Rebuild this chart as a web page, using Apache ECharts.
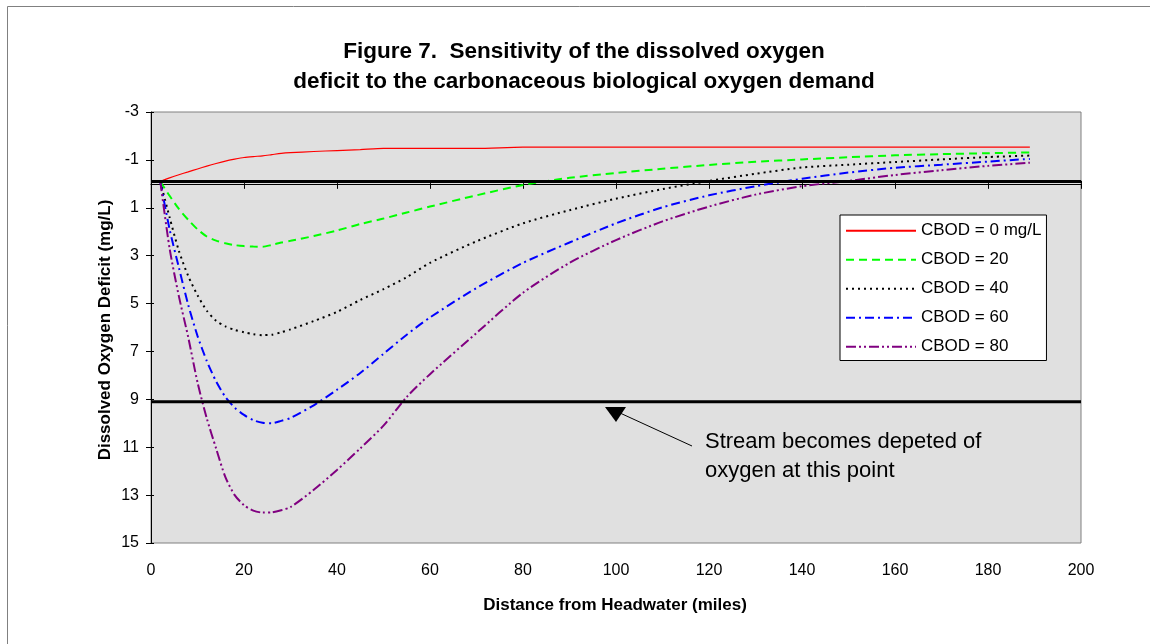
<!DOCTYPE html>
<html><head><meta charset="utf-8">
<script src="https://cdn.jsdelivr.net/npm/echarts@6/dist/echarts.min.js"></script>
<style>html,body{margin:0;padding:0;background:#fff}#c{width:1150px;height:644px}</style>
</head><body><div id="c"></div><script>
// distance from headwater (miles)
const distance = [2, 4, 6, 8, 10, 12, 14, 16, 18, 20, 22, 24, 26, 28, 30, 35, 40, 45, 50, 55, 60, 70, 80, 90, 100, 110, 120, 130, 140, 150, 160, 170, 180, 189];
// dissolved oxygen deficit (mg/L) for each CBOD level
const cbod0  = [-0.1, -0.25, -0.38, -0.5, -0.62, -0.74, -0.85, -0.95, -1.03, -1.1, -1.14, -1.17, -1.22, -1.27, -1.3, -1.35, -1.39, -1.43, -1.48, -1.48, -1.48, -1.48, -1.53, -1.53, -1.53, -1.53, -1.53, -1.53, -1.53, -1.53, -1.53, -1.53, -1.53, -1.53];
const cbod20 = [-0.1, 0.5, 1.05, 1.5, 1.9, 2.2, 2.37, 2.48, 2.56, 2.6, 2.62, 2.63, 2.55, 2.45, 2.38, 2.18, 1.95, 1.68, 1.45, 1.2, 0.95, 0.48, 0.05, -0.25, -0.45, -0.63, -0.79, -0.92, -1.02, -1.11, -1.19, -1.24, -1.28, -1.31];
const cbod40 = [-0.1, 1.4, 2.8, 3.85, 4.65, 5.3, 5.72, 5.95, 6.1, 6.2, 6.28, 6.32, 6.3, 6.2, 6.08, 5.73, 5.35, 4.85, 4.4, 3.9, 3.3, 2.4, 1.65, 1.1, 0.62, 0.22, -0.12, -0.42, -0.68, -0.8, -0.91, -1.02, -1.12, -1.18];
const cbod60 = [-0.1, 1.9, 3.5, 5.05, 6.35, 7.4, 8.25, 8.9, 9.35, 9.65, 9.87, 9.98, 10.0, 9.9, 9.78, 9.25, 8.6, 7.9, 7.1, 6.3, 5.58, 4.35, 3.3, 2.45, 1.65, 0.98, 0.48, 0.1, -0.21, -0.47, -0.67, -0.8, -0.93, -1.04];
const cbod80 = [-0.1, 2.7, 4.7, 6.4, 8.29, 9.8, 11.05, 12.25, 13.0, 13.42, 13.65, 13.73, 13.72, 13.63, 13.5, 12.78, 11.95, 11.05, 10.1, 8.9, 7.95, 6.23, 4.55, 3.3, 2.35, 1.57, 0.95, 0.45, 0.1, -0.12, -0.37, -0.57, -0.75, -0.88];
const seriesNames = ['CBOD = 0 mg/L', 'CBOD = 20', 'CBOD = 40', 'CBOD = 60', 'CBOD = 80'];
// reference levels (initial deficit, depletion level)
const refLevels = [-0.1, 9.1];
const refSpan = [0, 200];

const FONT = '"Liberation Sans", Arial, sans-serif';
const chart = echarts.init(document.getElementById('c'), null, {renderer: 'canvas'});

const pts = arr => distance.map((d, i) => [d, arr[i]]);
const styles = [
  {color: '#FF0000', width: 1.2, type: 'solid'},
  {color: '#00FF00', width: 2, type: [8, 5]},
  {color: '#000000', width: 2, type: [2, 4]},
  {color: '#0000FF', width: 2, type: [9, 4, 2, 4]},
  {color: '#800080', width: 2, type: [10, 3, 2, 3, 2, 3]}
];
const dataSets = [cbod0, cbod20, cbod40, cbod60, cbod80];

const series = dataSets.map((arr, i) => ({
  name: seriesNames[i], type: 'line', data: pts(arr), symbol: 'none', smooth: 0.25,
  lineStyle: styles[i], itemStyle: {color: styles[i].color}, z: 3, silent: true
}));
refLevels.forEach(v => series.push({
  type: 'line', data: refSpan.map(x => [x, v]), symbol: 'none',
  lineStyle: {color: '#000', width: 3}, z: 4, silent: true
}));

const yBase = {
  type: 'value', inverse: true, min: -3, max: 15, interval: 2, position: 'left',
  splitLine: {show: false}
};
const xBase = {type: 'value', min: 0, max: 200, interval: 20, position: 'bottom', splitLine: {show: false}};

chart.setOption({
  animation: false,
  backgroundColor: '#fff',
  grid: {left: 151, top: 112, width: 930, height: 431, show: true, backgroundColor: '#E0E0E0', borderColor: '#808080', borderWidth: 1},
  xAxis: [
    Object.assign({}, xBase, {
      axisLine: {lineStyle: {color: '#000', width: 1}},
      axisTick: {inside: false, length: 5, lineStyle: {color: '#000'}},
      axisLabel: {color: '#000', fontSize: 16, fontFamily: FONT, margin: 20}
    }),
    Object.assign({}, xBase, {
      axisLine: {show: false}, axisLabel: {show: false},
      axisTick: {inside: true, length: 3, lineStyle: {color: '#000'}}
    })
  ],
  yAxis: [
    Object.assign({}, yBase, {
      axisLine: {show: true, lineStyle: {color: '#000', width: 1}},
      axisTick: {show: true, inside: false, length: 5, lineStyle: {color: '#000'}},
      axisLabel: {color: '#000', fontSize: 16, fontFamily: FONT, margin: 12}
    }),
    Object.assign({}, yBase, {
      axisLine: {show: false}, axisLabel: {show: false},
      axisTick: {show: true, inside: true, length: 3, lineStyle: {color: '#000'}}
    })
  ],
  legend: {
    data: seriesNames, orient: 'vertical', left: 840, top: 215,
    padding: [7, 5, 5, 5], itemWidth: 70, itemHeight: 12, itemGap: 11.5,
    itemStyle: {opacity: 0},
    backgroundColor: '#fff', borderColor: '#000', borderWidth: 1, borderRadius: 0,
    textStyle: {color: '#000', fontSize: 17, fontFamily: FONT, lineHeight: 17.5},
    selectedMode: false
  },
  series: series,
  graphic: [
    {type: 'rect', shape: {x: 7.5, y: 6.5, width: 1300, height: 800}, style: {fill: 'none', stroke: '#808080', lineWidth: 1}, silent: true, z: -10},
    {type: 'text', x: 584, y: 52, style: {text: 'Figure 7.  Sensitivity of the dissolved oxygen', fontSize: 22.5, fontWeight: 'bold', fontFamily: FONT, fill: '#000', textAlign: 'center', textVerticalAlign: 'middle'}},
    {type: 'text', x: 584, y: 82, style: {text: 'deficit to the carbonaceous biological oxygen demand', fontSize: 22.5, fontWeight: 'bold', fontFamily: FONT, fill: '#000', textAlign: 'center', textVerticalAlign: 'middle'}},
    {type: 'text', x: 105, y: 330, rotation: Math.PI / 2, style: {text: 'Dissolved Oxygen Deficit (mg/L)', fontSize: 17, fontWeight: 'bold', fontFamily: FONT, fill: '#000', textAlign: 'center', textVerticalAlign: 'middle'}},
    {type: 'text', x: 615, y: 605, style: {text: 'Distance from Headwater (miles)', fontSize: 17, fontWeight: 'bold', fontFamily: FONT, fill: '#000', textAlign: 'center', textVerticalAlign: 'middle'}},
    {type: 'text', x: 705, y: 442, z: 10, style: {text: 'Stream becomes depeted of', fontSize: 22, fontFamily: FONT, fill: '#000', textAlign: 'left', textVerticalAlign: 'middle'}},
    {type: 'text', x: 705, y: 471, z: 10, style: {text: 'oxygen at this point', fontSize: 22, fontFamily: FONT, fill: '#000', textAlign: 'left', textVerticalAlign: 'middle'}},
    {type: 'line', z: 10, shape: {x1: 692, y1: 446, x2: 620, y2: 413}, style: {stroke: '#000', lineWidth: 1}},
    {type: 'polygon', z: 10, shape: {points: [[605, 407], [626, 407], [616, 422]]}, style: {fill: '#000'}}
  ]
});
</script></body></html>
